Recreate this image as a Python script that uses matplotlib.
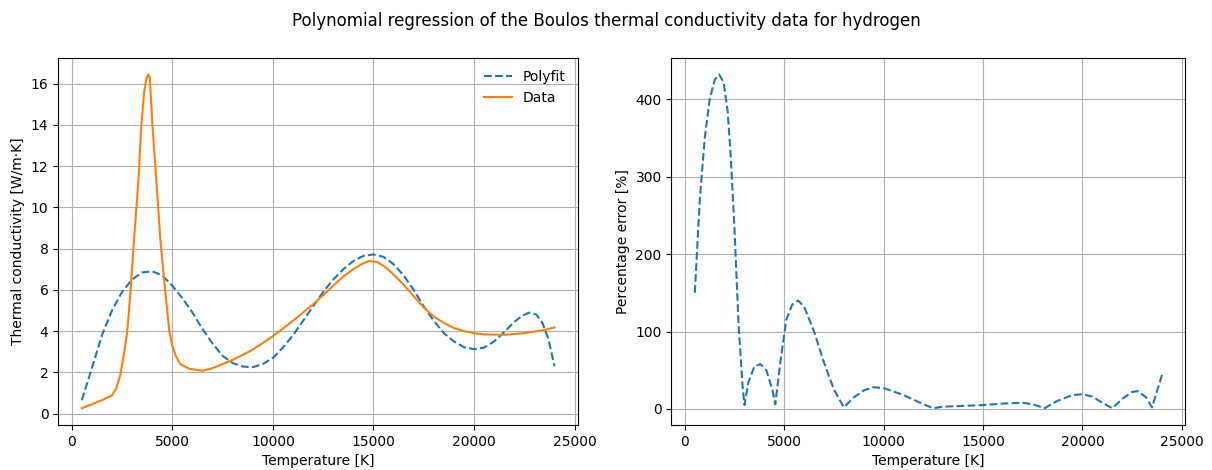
import matplotlib
matplotlib.use('Agg')
import matplotlib.pyplot as plt

# Boulos data
T_data = [500, 1000, 1500, 2000, 2200, 2400, 2600, 2760, 2920, 3100, 3310, 3460, 3600,
          3720, 3800, 3880, 4010, 4100, 4210, 4400, 4600, 4850, 5000, 5170, 5400, 5850,
          6500, 7000, 8000, 9000, 10000, 11000, 12000, 13000, 13500, 14000, 14500, 14800,
          15200, 15600, 16000, 16500, 17000, 17500, 18000, 18500, 19000, 19500, 20000,
          20500, 21500, 22500, 23500, 24000]
k_data = [0.26, 0.45, 0.65, 0.88, 1.2, 1.8, 2.9, 4.0, 5.9, 8.5, 11.25, 14.0, 15.6,
          16.3, 16.45, 16.3, 14.0, 12.8, 11.25, 8.5, 6.4, 4.0, 3.3, 2.8, 2.4, 2.17,
          2.08, 2.2, 2.6, 3.1, 3.75, 4.5, 5.3, 6.2, 6.65, 7.0, 7.3, 7.4,
          7.35, 7.1, 6.75, 6.25, 5.7, 5.15, 4.7, 4.4, 4.15, 4.0, 3.9,
          3.84, 3.82, 3.9, 4.05, 4.18]

# polynomial fit
T_fit = [500, 1000, 1500, 2000, 2500, 3000, 3500, 4000, 4500, 5000, 5500, 6000, 6500,
         7000, 7500, 8000, 8500, 9000, 9500, 10000, 10500, 11000, 11500, 12000, 12500,
         13000, 13500, 14000, 14500, 15000, 15500, 16000, 16500, 17000, 17500, 18000,
         18500, 19000, 19500, 20000, 20500, 21000, 21500, 22000, 22400, 22750, 23100,
         23400, 23700, 24000]
k_fit = [0.65, 2.2, 3.8, 5.0, 5.9, 6.5, 6.85, 6.9, 6.7, 6.2, 5.6, 4.9, 4.1,
         3.4, 2.8, 2.45, 2.28, 2.25, 2.4, 2.7, 3.2, 3.8, 4.5, 5.2, 5.9,
         6.5, 7.0, 7.4, 7.65, 7.72, 7.6, 7.25, 6.7, 6.0, 5.2, 4.5,
         3.9, 3.5, 3.22, 3.12, 3.2, 3.5, 3.95, 4.45, 4.75, 4.9, 4.8,
         4.4, 3.6, 2.3]

# percentage error
T_err = [500, 750, 1000, 1250, 1500, 1720, 1950, 2150, 2300, 2500, 2700, 2900, 3000,
         3200, 3500, 3800, 4100, 4400, 4550, 4800, 5100, 5400, 5700, 6000, 6500, 7000,
         7500, 8000, 8500, 9000, 9500, 10000, 11000, 12000, 12500, 13000, 14000, 15000,
         16000, 17000, 17500, 18100, 18700, 19500, 20000, 20500, 21000, 21500, 22000,
         22500, 22800, 23200, 23500, 24000]
err = [150, 270, 350, 400, 425, 432, 422, 385, 330, 230, 110, 30, 5,
       35, 55, 58, 50, 25, 6, 60, 115, 135, 140, 132, 100, 60,
       25, 2, 15, 24, 28, 27, 18, 6, 1, 3, 4, 5,
       7, 8, 6, 1, 10, 18, 19, 16, 8, 1, 13,
       22, 23, 15, 2, 44]

fig = plt.figure(figsize=(12.12, 4.7), dpi=100)
ax1 = fig.add_axes([0.048, 0.096, 0.429, 0.781])
ax2 = fig.add_axes([0.554, 0.096, 0.424, 0.781])

ax1.plot(T_fit, k_fit, '--', color='tab:blue', label='Polyfit')
ax1.plot(T_data, k_data, '-', color='tab:orange', label='Data')
ax1.set_xlabel('Temperature [K]')
ax1.set_ylabel('Thermal conductivity [W/m·K]')
ax1.set_xticks([0, 5000, 10000, 15000, 20000, 25000])
ax1.grid(True)
ax1.legend(loc='upper right', frameon=False)

ax2.plot(T_err, err, '--', color='tab:blue')
ax2.set_xlabel('Temperature [K]')
ax2.set_ylabel('Percentage error [%]')
ax2.set_xticks([0, 5000, 10000, 15000, 20000, 25000])
ax2.grid(True)

fig.suptitle('Polynomial regression of the Boulos thermal conductivity data for hydrogen', y=0.975)
fig.savefig('out.png', dpi=100)
